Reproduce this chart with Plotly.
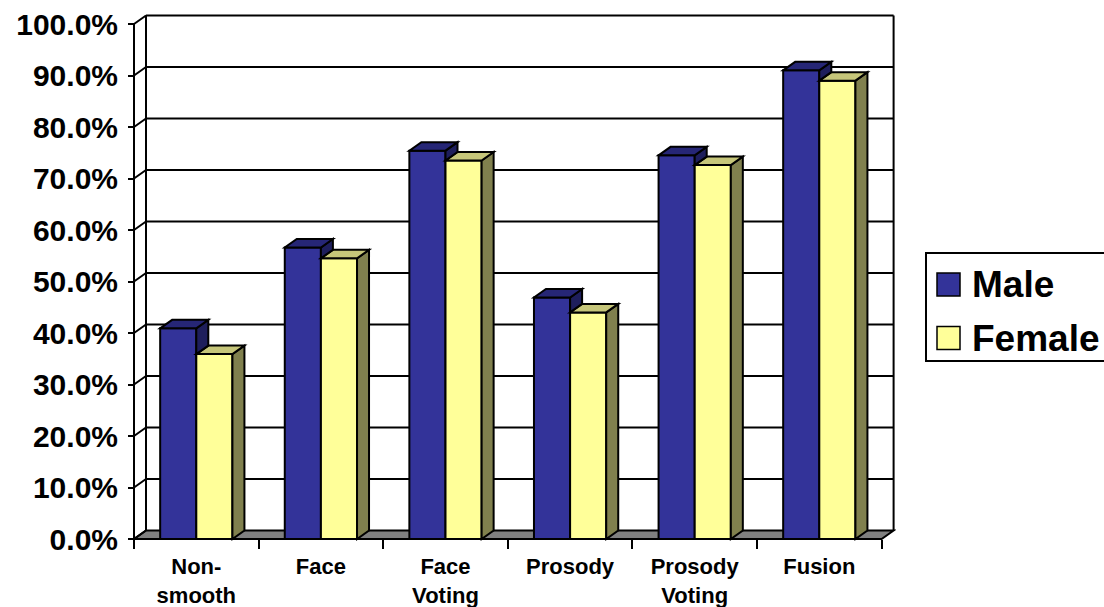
import plotly.graph_objects as go

# ---- data -------------------------------------------------------------
categories = ["Non-<br>smooth", "Face", "Face<br>Voting", "Prosody", "Prosody<br>Voting", "Fusion"]
male = [40.9, 56.6, 75.4, 46.9, 74.5, 91.0]
female = [35.9, 54.5, 73.5, 44.0, 72.6, 89.0]
y_ticks = list(range(0, 101, 10))
y_tick_text = [f"{v:.1f}%" for v in y_ticks]
series_names = ["Male", "Female"]

# ---- styling / geometry ----------------------------------------------
W, H = 1104, 607
ML, MR, MT, MB = 130, 208, 12, 65
PW, PH = W - ML - MR, H - MT - MB
CAT_PX = 124.6          # pixels per category on the front plane
UNIT_PX = 5.15          # pixels per percentage point on the front plane
DEPTH_X_PX, DEPTH_Y_PX = 12, 8.5   # oblique depth of the 3-D box
AX_LEFT_PX, AX_BOTTOM_PX = 134, 539

DX = DEPTH_X_PX / CAT_PX
DY = DEPTH_Y_PX / UNIT_PX
xmin = -0.5 - (AX_LEFT_PX - ML) / CAT_PX
xmax = xmin + PW / CAT_PX
ymin = -((H - MB) - AX_BOTTOM_PX) / UNIT_PX
ymax = ymin + PH / UNIT_PX

BARGAP = 0.42
HALF = (1 - BARGAP) / 2

FONT = "Arial, 'Liberation Sans', sans-serif"
MALE_FRONT, MALE_TOP, MALE_SIDE = "#333399", "#262676", "#1e1e5c"
FEM_FRONT, FEM_TOP, FEM_SIDE = "#ffff99", "#c6c67a", "#80804e"
FLOOR = "#808080"
LW = 2


def poly(pts, fill, layer="above"):
    path = "M " + " L ".join(f"{x:.5f},{y:.5f}" for x, y in pts) + " Z"
    return dict(type="path", xref="x", yref="y", path=path, fillcolor=fill,
                line=dict(color="black", width=LW), layer=layer)


def seg(x0, y0, x1, y1, layer="below"):
    return dict(type="line", xref="x", yref="y", x0=x0, y0=y0, x1=x1, y1=y1,
                line=dict(color="black", width=LW), layer=layer)


n = len(categories)
x_lo, x_hi = -0.5, n - 0.5
top = y_ticks[-1]
shapes = []

# floor
shapes.append(poly([(x_lo, 0), (x_hi, 0), (x_hi + DX, DY), (x_lo + DX, DY)], FLOOR, "below"))
# back wall gridlines
for v in y_ticks[1:]:
    shapes.append(seg(x_lo + DX, v + DY, x_hi + DX, v + DY))
# side-wall diagonals from the value axis to the back wall
for v in y_ticks:
    shapes.append(seg(x_lo, v, x_lo + DX, v + DY))
# back wall edges
shapes.append(seg(x_lo + DX, DY, x_lo + DX, top + DY))
shapes.append(seg(x_hi + DX, DY, x_hi + DX, top + DY))
# front value axis
shapes.append(seg(x_lo, 0, x_lo, top, "above"))

# top and side faces of every column
for i, (vm, vf) in enumerate(zip(male, female)):
    m0, m1 = i - HALF, i
    f0, f1 = i, i + HALF
    shapes.append(poly([(f1, 0), (f1, vf), (f1 + DX, vf + DY), (f1 + DX, DY)], FEM_SIDE))
    shapes.append(poly([(f0, vf), (f1, vf), (f1 + DX, vf + DY), (f0 + DX, vf + DY)], FEM_TOP))
    if vm > vf:
        shapes.append(poly([(m1, vf), (m1, vm), (m1 + DX, vm + DY), (m1 + DX, vf + DY)], MALE_SIDE))
    shapes.append(poly([(m0, vm), (m1, vm), (m1 + DX, vm + DY), (m0 + DX, vm + DY)], MALE_TOP))


# legend drawn in paper coordinates
def px_x(px):
    return (px - ML) / PW


def px_y(py):
    return (H - MB - py) / PH


legend_box = dict(type="rect", xref="paper", yref="paper",
                  x0=px_x(926), x1=px_x(1130), y0=px_y(361), y1=px_y(253),
                  line=dict(color="black", width=LW), fillcolor="white", layer="above")
shapes.append(legend_box)
annotations = []
for name, color, cy in [(series_names[0], MALE_FRONT, 284.5), (series_names[1], FEM_FRONT, 338)]:
    shapes.append(dict(type="rect", xref="paper", yref="paper",
                       x0=px_x(937), x1=px_x(960), y0=px_y(cy + 11.5), y1=px_y(cy - 11.5),
                       fillcolor=color, line=dict(color="black", width=1.5), layer="above"))
    annotations.append(dict(xref="paper", yref="paper", x=px_x(970), y=px_y(cy),
                            xanchor="left", yanchor="middle", showarrow=False, text=name,
                            font=dict(family=FONT, size=37, color="black", weight="bold")))

fig = go.Figure()
fig.add_trace(go.Bar(x=categories, y=male, name=series_names[0], marker_color=MALE_FRONT,
                     marker_line=dict(color="black", width=LW)))
fig.add_trace(go.Bar(x=categories, y=female, name=series_names[1], marker_color=FEM_FRONT,
                     marker_line=dict(color="black", width=LW)))

fig.update_layout(
    width=W, height=H,
    margin=dict(l=ML, r=MR, t=MT, b=MB, pad=0, autoexpand=False),
    paper_bgcolor="white", plot_bgcolor="white",
    barmode="group", bargap=BARGAP, bargroupgap=0,
    showlegend=False,
    shapes=shapes, annotations=annotations,
    xaxis=dict(type="category", range=[xmin, xmax], anchor="free", automargin=False,
               position=(H - MB - AX_BOTTOM_PX) / PH,
               tickson="boundaries", ticks="outside", ticklen=9, tickwidth=LW,
               tickcolor="black", showgrid=False, showline=False, zeroline=False,
               ticklabelstandoff=12,
               tickfont=dict(family=FONT, size=22, color="black", weight="bold")),
    yaxis=dict(range=[ymin, ymax], anchor="free", position=(AX_LEFT_PX - ML) / PW,
               automargin=False,
               tickmode="array", tickvals=y_ticks, ticktext=y_tick_text,
               ticks="outside", ticklen=6, tickwidth=LW, tickcolor="black",
               showgrid=False, showline=False, zeroline=False,
               ticklabelstandoff=4,
               tickfont=dict(family=FONT, size=30, color="black", weight="bold")),
)

fig.write_html("out.html")
